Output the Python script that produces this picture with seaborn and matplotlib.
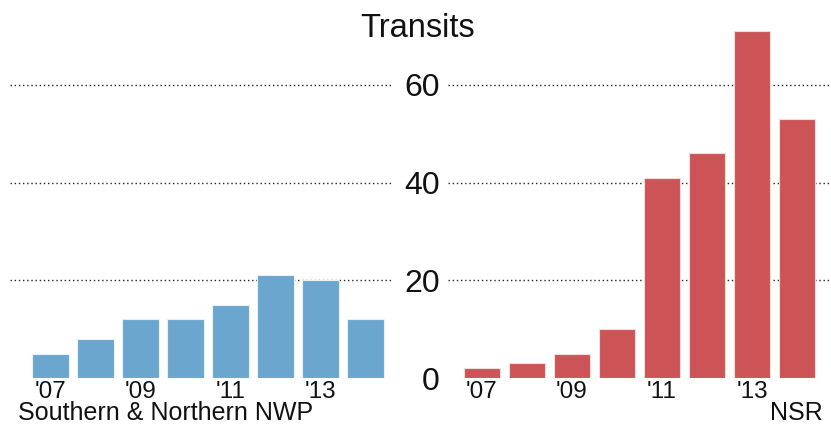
import matplotlib
matplotlib.use("Agg")
import matplotlib.pyplot as plt
import seaborn as sns
import pandas as pd

years = ["2007", "2008", "2009", "2010", "2011", "2012", "2013", "2014"]
tick_labels = ["'07", "", "'09", "", "'11", "", "'13", ""]
nwp = [5, 8, 12, 12, 15, 21, 20, 12]
nsr = [2, 3, 5, 10, 41, 46, 71, 53]
y_ticks = [0, 20, 40, 60]
title = "Transits"
label_nwp = "Southern & Northern NWP"
label_nsr = "NSR"
color_nwp = "#6aa6ce"
color_nsr = "#cc5456"

sns.set_theme(style="white")
plt.rcParams["font.family"] = ["Liberation Sans", "DejaVu Sans"]

W, H = 831, 426
fig = plt.figure(figsize=(W / 100, H / 100), dpi=100)

y0_px = 378
px_per_unit = (378 - 85) / 60.0
ymax = 75
bottom = (H - y0_px) / H
height = ymax * px_per_unit / H

axL = fig.add_axes([10 / W, bottom, 382 / W, height])
axR = fig.add_axes([448 / W, bottom, 383 / W, height])

dfL = pd.DataFrame({"year": years, "value": nwp})
dfR = pd.DataFrame({"year": years, "value": nsr})

sns.barplot(data=dfL, x="year", y="value", ax=axL, color=color_nwp,
            saturation=1, width=0.82, edgecolor="#e8f0f6", linewidth=0.8)
sns.barplot(data=dfR, x="year", y="value", ax=axR, color=color_nsr,
            saturation=1, width=0.82, edgecolor="#f2dcdc", linewidth=0.8)

axL.set_xlim(-0.89, 7.59)
axR.set_xlim(-0.755, 7.755)

for ax in (axL, axR):
    ax.set_ylim(0, ymax)
    ax.set_xlabel("")
    ax.set_ylabel("")
    for s in ax.spines.values():
        s.set_visible(False)
    ax.set_xticks(range(len(years)))
    ax.set_xticklabels(tick_labels, fontsize=17.5, color="#111111")
    ax.tick_params(axis="x", length=0, pad=2)
    ax.set_yticks(y_ticks)
    ax.grid(False)
    for v in y_ticks[1:]:
        ax.axhline(v, color="#222222", linestyle=(0, (1, 2)), linewidth=1.0, zorder=0)
    ax.set_facecolor("none")

axL.set_yticklabels([])
axL.tick_params(axis="y", length=0)
axR.set_yticklabels([str(v) for v in y_ticks], fontsize=23, color="#111111")
axR.tick_params(axis="y", length=0, pad=6)

fig.text(418 / W, (H - 37) / H, title, ha="center", va="baseline", fontsize=23.5, color="#111111")
fig.text(18 / W, (H - 420) / H, label_nwp, ha="left", va="baseline", fontsize=18, color="#111111")
fig.text(823 / W, (H - 420) / H, label_nsr, ha="right", va="baseline", fontsize=18, color="#111111")

fig.savefig("out.png", dpi=100)
